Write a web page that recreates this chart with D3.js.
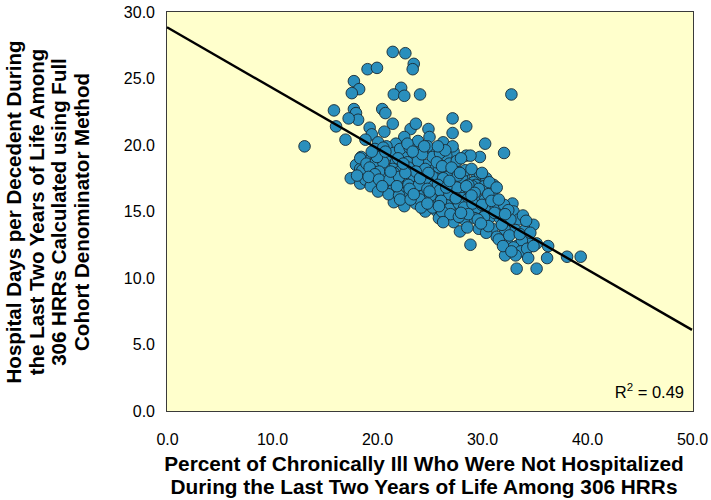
<!DOCTYPE html>
<html>
<head>
<meta charset="utf-8">
<script src="https://cdn.jsdelivr.net/npm/d3@7"></script>
<style>
  body { margin: 0; background: #fff; }
  svg { display: block; font-family: Arial, "Liberation Sans", Helvetica, sans-serif; }
</style>
</head>
<body>
<svg id="svg" width="711" height="500"></svg>
<script>
// percent of chronically ill not hospitalized, hospital days per decedent (one pair per HRR)
const hrrPoints = [
  // sparse upper part
  [21.5, 27.0], [22.7, 26.9], [23.5, 26.1], [23.4, 25.7], [19.1, 25.7], [20.0, 25.8],
  [17.8, 24.8], [18.3, 24.2], [17.6, 23.9], [22.3, 24.3], [21.6, 23.8], [22.6, 23.7], [24.1, 23.8], [32.8, 23.8],
  [15.9, 22.6], [17.8, 22.7], [18.0, 22.4], [18.2, 21.9], [17.3, 22.0], [20.5, 22.7], [20.8, 22.4],
  [16.1, 21.4], [17.0, 20.4], [13.1, 19.9], [19.3, 21.3], [21.5, 21.6], [23.2, 21.2], [23.7, 21.6], [24.9, 21.2],
  [27.2, 22.0], [28.5, 21.4], [27.2, 20.9], [20.7, 21.0], [19.5, 20.8], [18.9, 20.4], [25.0, 20.6], [22.6, 20.6],
  [23.9, 20.3], [26.3, 20.2], [30.3, 20.1], [32.1, 19.4], [29.8, 19.1], [28.5, 19.2], [28.9, 19.2], [27.3, 19.5],
  [26.6, 19.2], [25.3, 19.5], [24.8, 19.9], [21.8, 20.1], [20.9, 19.9], [20.1, 20.2], [20.2, 19.4], [18.5, 19.1],
  [18.0, 18.5], [18.4, 18.2], [17.5, 17.5], [19.4, 18.9], [22.6, 19.2], [23.6, 19.1], [21.7, 18.5], [23.2, 18.4],
  [24.7, 18.5], [27.8, 18.0],
  // band 18 - 20
  [18.4, 19.0], [21.0, 19.2], [25.3, 19.1], [26.0, 19.4], [27.2, 19.9], [26.5, 19.6], [21.6, 19.4],
  [21.8, 18.7], [18.6, 18.1], [21.5, 18.2], [24.0, 18.2], [22.2, 18.0], [25.4, 18.1], [26.5, 18.0], [20.8, 18.2], [25.9, 18.3],
  // band 17 - 18
  [18.4, 17.1], [18.9, 17.4], [19.5, 17.0], [20.5, 17.7], [20.9, 17.6], [21.6, 17.9], [23.4, 17.9], [24.5, 17.7],
  [25.6, 17.5], [26.7, 17.9], [29.5, 17.7], [30.2, 17.4], [31.1, 17.0], [21.5, 17.1], [23.5, 17.2], [25.3, 17.6],
  [27.3, 17.1], [28.3, 17.3], [23.2, 17.6], [24.3, 17.6], [26.7, 17.6], [28.3, 17.6], [29.8, 17.8], [30.4, 17.5],
  [22.6, 17.2], [26.0, 17.1], [27.2, 17.3], [29.2, 17.2], [28.1, 17.5], [29.4, 17.0], [24.8, 17.3], [22.0, 17.4],
  [19.9, 17.3],
  // band 16 - 17
  [20.8, 16.7], [22.6, 16.7], [24.3, 16.5], [25.4, 16.9], [26.4, 16.9], [29.1, 16.9], [30.2, 16.9], [27.2, 16.6],
  [28.6, 16.4], [28.1, 16.7], [29.7, 16.7], [19.4, 16.9], [21.5, 16.6], [23.4, 16.7], [22.9, 16.2], [24.0, 16.3],
  [27.9, 16.2], [26.4, 16.2], [25.5, 16.4], [23.8, 16.9], [31.0, 16.5],
  // band 15 - 16
  [21.6, 15.7], [22.6, 15.4], [23.7, 15.6], [24.6, 15.0], [25.4, 15.9], [27.2, 15.9], [28.1, 16.0], [29.5, 16.0],
  [30.3, 15.9], [24.1, 15.9], [25.6, 15.1], [28.6, 15.9], [25.3, 15.3], [28.9, 15.0], [29.8, 14.9], [31.9, 15.2],
  [32.9, 15.6], [33.0, 15.0], [29.4, 15.2], [30.5, 15.2], [31.3, 15.4], [32.1, 15.5], [26.6, 15.5], [27.6, 15.3],
  // band 14 - 15
  [25.9, 14.5], [26.7, 14.5], [27.3, 14.2], [28.3, 14.4], [30.8, 14.6], [31.7, 14.5], [33.5, 14.4], [30.2, 14.6],
  [32.7, 14.4], [34.9, 14.0], [29.3, 14.5],
  // band 13 - 14
  [27.9, 13.5], [29.7, 13.7], [31.0, 13.7], [32.2, 13.6], [33.2, 13.6], [34.1, 13.6], [31.4, 13.1],
  // lower tail
  [28.9, 12.5], [32.4, 12.6], [33.3, 12.4], [34.3, 12.9], [35.2, 12.6], [31.6, 12.9], [33.8, 12.8], [33.0, 12.3],
  [33.7, 12.0], [34.3, 12.2], [36.3, 12.4], [32.2, 11.7], [33.2, 11.7], [36.2, 11.5], [38.1, 11.6], [39.4, 11.6],
  [33.3, 10.7], [35.2, 10.7], [34.4, 11.5],
  // hidden inside the dense core
  [19.8, 19.7], [20.6, 19.8], [22.2, 19.7], [23.1, 19.8], [24.3, 19.6], [25.8, 19.9], [22.9, 20.1],
  [19.0, 18.6], [19.9, 18.8], [20.6, 18.7], [22.9, 18.7], [23.9, 18.8], [24.3, 19.3], [25.7, 18.7], [26.9, 18.6],
  [27.6, 18.8], [28.0, 19.0], [22.0, 19.0], [20.0, 19.1],
  [19.3, 18.3], [20.2, 18.0], [23.0, 18.3], [24.6, 18.2], [26.2, 18.4], [27.1, 18.3], [28.4, 18.1], [29.0, 18.2],
  [23.7, 18.0], [19.8, 17.8],
  [18.1, 17.7], [19.2, 17.6], [20.2, 17.4], [21.2, 17.4], [22.1, 17.6], [23.0, 17.0], [24.0, 17.0], [24.9, 17.9],
  [26.3, 17.5], [27.7, 17.7], [28.7, 17.0], [30.7, 17.2], [25.8, 17.0],
  [20.1, 16.5], [21.1, 16.3], [22.1, 16.2], [23.1, 16.7], [24.8, 16.7], [25.1, 16.2], [26.0, 16.6], [26.9, 16.3],
  [27.6, 16.8], [28.5, 16.9], [29.3, 16.4], [30.6, 16.3], [20.5, 16.9], [31.4, 16.8],
  [22.2, 15.9], [23.2, 15.9], [24.2, 15.3], [26.1, 15.8], [26.9, 15.2], [27.8, 15.6], [28.3, 15.3], [29.1, 15.6],
  [30.0, 15.5], [30.9, 15.8], [31.6, 15.9], [32.5, 15.1], [24.8, 15.6], [26.2, 15.0],
  [27.0, 14.8], [27.8, 14.6], [28.7, 14.8], [29.6, 14.4], [31.2, 14.9], [32.2, 14.8], [33.9, 14.7], [26.3, 14.2],
  [34.2, 14.3],
  [28.6, 13.8], [30.4, 13.4], [32.6, 13.2], [33.6, 13.3], [34.6, 13.4], [30.6, 13.9], [31.9, 14.0],
  [32.0, 12.4], [34.9, 12.4], [32.8, 12.0],
  [21.3, 18.0], [22.7, 17.9], [24.1, 17.5], [25.0, 16.5], [26.6, 16.8], [27.9, 17.9], [21.9, 16.9], [23.5, 16.3],
  [25.9, 15.4], [28.0, 14.9], [29.9, 14.1], [24.5, 19.9], [23.4, 19.5], [20.8, 19.5], [19.5, 19.5], [22.5, 18.6],
  [26.9, 17.3], [27.5, 16.0], [29.0, 16.2], [30.0, 17.9]
];

const xTicks = [0, 10, 20, 30, 40, 50];
const yTicks = [0, 5, 10, 15, 20, 25, 30];
const fitLine = { intercept: 28.85, slope: -0.455 };
const rSquared = '0.49';

const xTitle = ['Percent of Chronically Ill Who Were Not Hospitalized',
  'During the Last Two Years of Life Among 306 HRRs'];
const yTitle = ['Hospital Days per Decedent During', 'the Last Two Years of Life Among',
  '306 HRRs Calculated using Full', 'Cohort Denominator Method'];

const svg = d3.select('#svg');
const plot = { left: 167, right: 692, top: 12, bottom: 411 };

const x = d3.scaleLinear().domain([0, 50]).range([plot.left, plot.right]);
const y = d3.scaleLinear().domain([0, 30]).range([plot.bottom, plot.top]);

svg.append('rect')
  .attr('x', plot.left - 0.5)
  .attr('y', plot.top - 0.5)
  .attr('width', plot.right - plot.left + 2)
  .attr('height', plot.bottom - plot.top + 1)
  .attr('fill', '#ffffcc')
  .attr('stroke', '#3a3a3a')
  .attr('stroke-width', 1);

// axes, labels only
const yAxis = d3.axisLeft(y).tickValues(yTicks).tickSize(0).tickPadding(12).tickFormat(d3.format('.1f'));
const xAxis = d3.axisBottom(x).tickValues(xTicks).tickSize(0).tickPadding(23).tickFormat(d3.format('.1f'));

svg.append('g').attr('transform', `translate(${plot.left},0)`).call(yAxis)
  .call(g => g.select('.domain').remove());
svg.append('g').attr('transform', `translate(0,${plot.bottom})`).call(xAxis)
  .call(g => g.select('.domain').remove());

svg.selectAll('.tick text')
  .attr('font-family', 'Arial, "Liberation Sans", sans-serif')
  .attr('font-size', 16)
  .attr('fill', '#000');

// points
svg.append('g')
  .selectAll('circle')
  .data(hrrPoints)
  .join('circle')
  .attr('cx', d => x(d[0]))
  .attr('cy', d => y(d[1]))
  .attr('r', 5.8)
  .attr('fill', '#2a8fbd')
  .attr('stroke', '#1a2a33')
  .attr('stroke-width', 0.9);

// regression line
const fitEnds = [0, 50].map(v => [v, fitLine.intercept + fitLine.slope * v]);
svg.append('path')
  .datum(fitEnds)
  .attr('fill', 'none')
  .attr('stroke', '#000')
  .attr('stroke-width', 2.4)
  .attr('d', d3.line().x(d => x(d[0])).y(d => y(d[1])));

// R squared
const r2 = svg.append('text')
  .attr('x', 684)
  .attr('y', 398)
  .attr('text-anchor', 'end')
  .attr('font-size', 16.5)
  .attr('fill', '#000');
r2.append('tspan').text('R');
r2.append('tspan').attr('font-size', 11.5).attr('dy', -7).text('2');
r2.append('tspan').attr('dy', 7).text(' = ' + rSquared);

// axis titles
svg.append('text')
  .attr('text-anchor', 'middle')
  .attr('font-weight', 'bold')
  .attr('font-size', 20.8)
  .selectAll('tspan')
  .data(xTitle)
  .join('tspan')
  .attr('x', 424)
  .attr('y', (d, i) => 471 + i * 23)
  .text(d => d);

svg.append('text')
  .attr('text-anchor', 'middle')
  .attr('font-weight', 'bold')
  .attr('font-size', 20.5)
  .attr('transform', 'translate(0,212) rotate(-90)')
  .selectAll('tspan')
  .data(yTitle)
  .join('tspan')
  .attr('x', 0)
  .attr('y', (d, i) => 21 + i * 22.5)
  .text(d => d);
</script>
</body>
</html>
